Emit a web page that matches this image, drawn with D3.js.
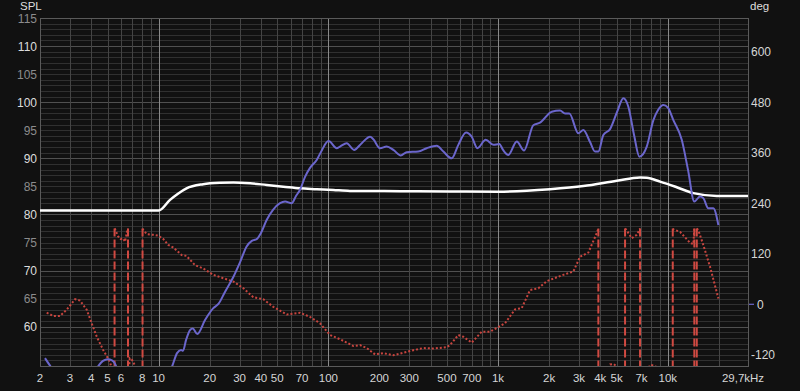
<!DOCTYPE html>
<html>
<head>
<meta charset="utf-8">
<script src="https://cdn.jsdelivr.net/npm/d3@7"></script>
<style>
  html, body { margin: 0; padding: 0; background: #111111; }
  svg { display: block; }
</style>
</head>
<body>
<svg id="chart" width="800" height="391"></svg>
<script>
// ---------- data ----------
const xTickValues = [2,3,4,5,6,8,10,20,30,40,50,70,100,200,300,500,700,1000,2000,3000,4000,5000,7000,10000];
const xTickLabels = ["2","3","4","5","6","8","10","20","30","40","50","70","100","200","300","500","700","1k","2k","3k","4k","5k","7k","10k"];
const xEndLabel = "29,7kHz";
const splTicks = [115,110,105,100,95,90,85,80,75,70,65,60];
const degTicks = [600,480,360,240,120,0,-120];

// blue SPL response (Hz, dB)
const splFreq = [2.14,2.31,2.5,3.3,4.1,4.39,4.70,5.03,5.31,5.51,5.63,6.2,8,10.5,11.99,12.84,13.55,13.92,14.5,15.31,15.88,16.9,18.77,21.0,22.5,24.6,27.6,30.2,33.0,35.4,37.8,40.1,43.3,47.2,51.9,55.6,60.8,64.5,68.1,72.9,78.0,85.4,91.8,100,102.3,112,117.2,128.4,141.7,157.3,176.1,184.1,201.6,220.8,241.6,267.2,289.6,339,379.8,435.4,476.2,533.6,583.4,647.6,699.8,755.2,846.2,938.4,1017,1070,1150,1289,1423,1614,1768,2072,2318,2482,2630,2972,3182,3484,3729,3900,4173,4571,5026,5474,5858,6330,6803,7520,8226,8766,9420,10040,10790,12090,13170,14340,15490,16200,17340,18560,19870];
const splDb   = [54.4,52.9,51.5,49,51.5,52.9,53.9,54.2,54.0,53.5,52.9,51,48,50.5,52.9,55.3,55.85,55.7,57.6,59.4,59.7,58.7,61.2,63.3,64.05,66.2,68.9,71.5,74.3,75.3,75.6,76.7,79.0,80.8,82.0,82.3,82.0,83.3,84.4,86.7,88.3,89.7,91.5,93.1,92.96,91.8,92.1,92.7,91.5,92.7,93.85,93.4,91.8,92.1,91.5,90.5,91.1,91.2,91.8,92.25,91.2,90.0,92.4,94.6,93.85,91.8,93.3,92.4,92.55,91.5,90.6,93.0,91.4,95.9,96.35,98.3,98.5,98.0,98.0,94.45,95.05,92.9,91.2,91.2,94.15,95.2,98.25,100.7,99.2,94.15,90.3,92.1,96.8,98.6,99.5,99.0,96.8,93.3,87.9,82.3,83.2,82.9,81.1,81.1,78.1];

// white curve (Hz, dB)
const whiteFreq = [2,10,11.67,13.0,14.6,18.3,23.0,27.6,34.6,43.3,54.3,68.1,85.4,107,134,267,521,1000,2024,3182,5004,6864,7520,9008,11300,14150,19440,29700];
const whiteDb   = [80.7,80.7,82.6,83.7,84.65,85.4,85.65,85.7,85.55,85.25,84.95,84.65,84.5,84.35,84.2,84.15,84.1,84.05,84.5,85.05,86.0,86.6,86.55,85.85,84.85,83.8,83.3,83.3];

// red phase (Hz, deg), wrapped to ±180; repeated frequency = wrap
const phaseFreq = [2.19,2.40,2.62,2.87,3.22,3.44,3.77,4.03,4.32,4.72,5.17,5.50,5.50,5.53,5.76,5.96,6.17,6.34,6.54,6.60,6.60,6.65,6.76,6.97,7.23,7.56,8.04,8.04,8.08,8.51,9.30,9.96,10.66,11.4,12.2,13.68,14.6,16.39,18.34,21.0,24.06,27.6,31.6,36.1,41.4,47.4,56.9,68.1,78.0,89.3,102.3,117.2,140.4,153.7,168.4,188.4,210.8,241.6,276.6,316.8,362.8,415.6,498.6,521,583,624,700,801,897,1099,1259,1379,1544,1728,1936,2425,2778,3042,3404,3815,3900,3900,4328,4571,4800,5094,5378,5602,5602,5678,6134,6566,6864,6864,7400,7864,8414,9000,9638,10700,10700,10790,11820,13530,14150,14340,14340,14600,14820,14820,15140,16200,17750,19870];
const phaseDeg  = [-20,-28,-28,-13,12,9,-13,-45,-77,-109,-137,-180,180,179,162,155,157,149,176,180,-180,-172,-128,-132,-144,-168,-180,180,178,167,165,163,155,141,135,117,115,93,85,70,62,54,38,17,12,-6,-24,-20,-30,-45,-73,-83,-99,-97,-104,-119,-116,-121,-115,-109,-104,-105,-102,-97,-73,-77,-91,-65,-65,-45,-12,-9,34,38,55,70,78,113,123,169,180,-180,-165,-143,-142,-150,-170,-180,180,178,157,165,180,-180,-170,-144,-146,-160,-175,-180,180,178,172,146,143,180,-180,-178,-180,180,176,141,89,14];

// ---------- drawing ----------
const W = 800, H = 391;
const L = 40, R = 748, T = 18, B = 366;
const svg = d3.select("#chart");
const font = "'Liberation Sans', Arial, sans-serif";

const x = d3.scaleLog().domain([2, 29700]).range([L, R]);
const yL = d3.scaleLinear().domain([53, 115]).range([B, T]);
const yR = d3.scaleLinear().domain([-146.6, 680.3]).range([B, T]);

svg.append("rect").attr("width", W).attr("height", H).attr("fill", "#111111");

const defs = svg.append("defs");
defs.append("clipPath").attr("id", "plotclip")
  .append("rect").attr("x", L).attr("y", T).attr("width", R - L).attr("height", B - T);

// horizontal grid (1 dB minor, 10 dB major)
const grid = svg.append("g");
const hVals = d3.range(54, 115, 1);
grid.selectAll("line.h").data(hVals).enter().append("line")
  .attr("x1", L).attr("x2", R)
  .attr("y1", d => Math.round(yL(d)) + 0.5).attr("y2", d => Math.round(yL(d)) + 0.5)
  .attr("stroke", d => d % 10 === 0 ? "#505050" : "#303030")
  .attr("stroke-width", 1);

// vertical grid
const vVals = x.ticks().filter(d => d > 2 && d < 29700);
grid.selectAll("line.v").data(vVals).enter().append("line")
  .attr("y1", T).attr("y2", B)
  .attr("x1", d => Math.round(x(d)) + 0.5).attr("x2", d => Math.round(x(d)) + 0.5)
  .attr("stroke", d => Math.abs(Math.log10(d) - Math.round(Math.log10(d))) < 1e-9 ? "#8a8a8a" : "#444444")
  .attr("stroke-width", 1);

// border
svg.append("rect").attr("x", L + 0.5).attr("y", T + 0.5).attr("width", R - L).attr("height", B - T)
  .attr("fill", "none").attr("stroke", "#5a5a5a").attr("stroke-width", 1);

const plot = svg.append("g").attr("clip-path", "url(#plotclip)");

// red phase: dotted segments + dashed wrap lines
const phase = phaseFreq.map((f, i) => [f, phaseDeg[i]]);
const segs = [];
const wraps = [];
let cur = [phase[0]];
for (let i = 1; i < phase.length; i++) {
  if (phase[i][0] === phase[i - 1][0]) {
    wraps.push(phase[i][0]);
    segs.push(cur);
    cur = [phase[i]];
  } else {
    cur.push(phase[i]);
  }
}
segs.push(cur);
const redLine = d3.line().x(d => x(d[0])).y(d => yR(d[1]));
plot.selectAll("path.ph").data(segs).enter().append("path")
  .attr("d", redLine)
  .attr("fill", "none").attr("stroke", "#c8453f").attr("stroke-width", 2)
  .attr("stroke-dasharray", "2,2");
plot.selectAll("line.wrap").data(wraps).enter().append("line")
  .attr("x1", d => x(d)).attr("x2", d => x(d))
  .attr("y1", yR(180)).attr("y2", yR(-180))
  .attr("stroke", "#d04a42").attr("stroke-width", 2)
  .attr("stroke-dasharray", "8,3");

// white curve
const white = whiteFreq.map((f, i) => [f, whiteDb[i]]);
plot.append("path")
  .attr("d", d3.line().x(d => x(d[0])).y(d => yL(d[1])).curve(d3.curveMonotoneX)(white))
  .attr("fill", "none").attr("stroke", "#ffffff").attr("stroke-width", 2.5);

// blue SPL curve
const spl = splFreq.map((f, i) => [f, splDb[i]]);
plot.append("path")
  .attr("d", d3.line().x(d => x(d[0])).y(d => yL(d[1])).curve(d3.curveMonotoneX)(spl))
  .attr("fill", "none").attr("stroke", "#6b66cc").attr("stroke-width", 2);

// left axis labels
svg.append("text").attr("x", 20).attr("y", 10).text("SPL")
  .attr("font-family", font).attr("font-size", 11.5).attr("fill", "#dddddd");
svg.selectAll("text.yl").data(splTicks).enter().append("text")
  .attr("x", 37).attr("y", d => yL(d) + 4.5)
  .attr("text-anchor", "end")
  .attr("font-family", font).attr("font-size", 12)
  .attr("fill", d => d % 10 === 0 ? "#dddddd" : "#8c8c8c")
  .text(d => d);

// right axis labels
svg.append("text").attr("x", 750).attr("y", 10).text("deg")
  .attr("font-family", font).attr("font-size", 11.5).attr("fill", "#dddddd");
svg.selectAll("text.yr").data(degTicks).enter().append("text")
  .attr("x", d => d === 0 ? 757 : 751).attr("y", d => yR(d) + 4.5)
  .attr("font-family", font).attr("font-size", 12)
  .attr("fill", "#d6d6d6")
  .text(d => d);
svg.append("line").attr("x1", 749).attr("x2", 754)
  .attr("y1", yR(0)).attr("y2", yR(0))
  .attr("stroke", "#6b66cc").attr("stroke-width", 1.2);

// bottom labels
svg.selectAll("text.xl").data(xTickValues).enter().append("text")
  .attr("x", d => x(d)).attr("y", 382)
  .attr("text-anchor", "middle")
  .attr("font-family", font).attr("font-size", 11.5)
  .attr("fill", "#d6d6d6")
  .text((d, i) => xTickLabels[i]);
svg.append("text").attr("x", 743).attr("y", 382)
  .attr("text-anchor", "middle")
  .attr("font-family", font).attr("font-size", 11.5)
  .attr("fill", "#d6d6d6")
  .text(xEndLabel);
</script>
</body>
</html>
